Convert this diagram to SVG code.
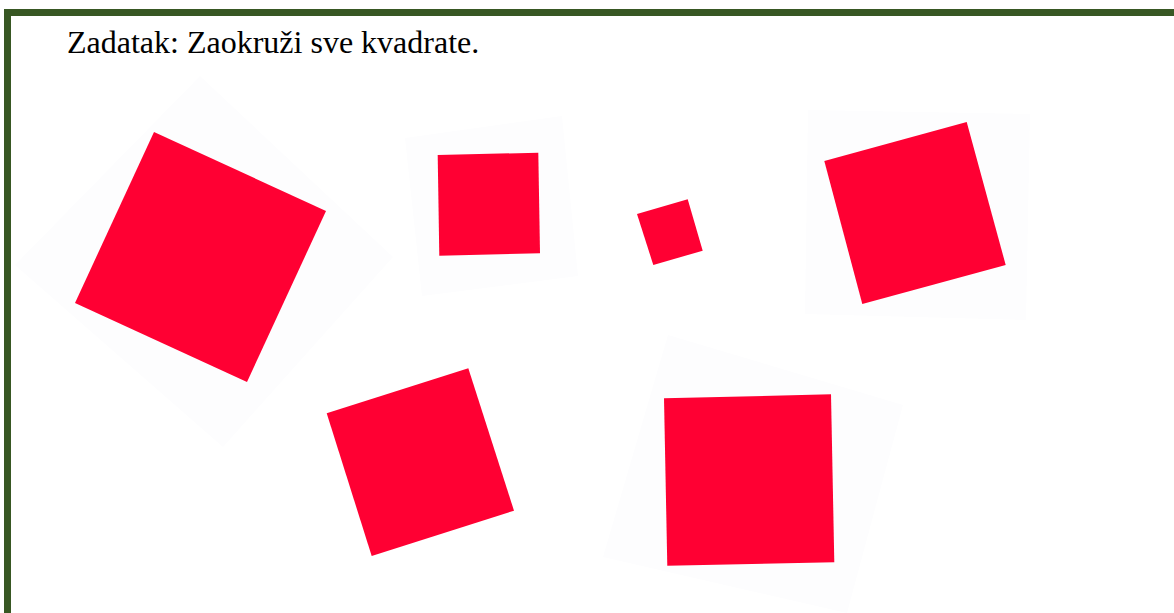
<svg xmlns="http://www.w3.org/2000/svg" width="1174" height="613" viewBox="0 0 1174 613">
  <style>
    .bg { fill: #fdfdfe; }
    .sq { fill: #ff0033; }
    .title { font-family: "Liberation Serif", "Times New Roman", serif; font-size: 32px; fill: #000000; }
  </style>
  <rect x="0" y="0" width="1174" height="613" fill="#ffffff"/>
  <rect x="7.5" y="12.5" width="1200" height="640" fill="none" stroke="#385723" stroke-width="7"/>
  <text class="title" x="67" y="53">Zadatak: Zaokruži sve kvadrate.</text>

  <g id="shape1">
    <polygon class="bg" points="200,76 393,257 223,447 15,265"/>
    <polygon class="sq" points="154,132 326,211 247,382 75,303"/>
  </g>
  <g id="shape2">
    <polygon class="bg" points="405,138 562,116 578,276 422,296"/>
    <polygon class="sq" points="437.7,155 538.3,152.7 540,253.3 439.3,255.7"/>
  </g>
  <g id="shape3">
    <polygon class="sq" points="637,214 687.7,199.3 702.7,250.7 653.3,265"/>
  </g>
  <g id="shape4">
    <polygon class="bg" points="808,110 1030,114 1026,320 805,314"/>
    <polygon class="sq" points="824.3,161 966.7,122 1005.7,265 862.3,304"/>
  </g>
  <g id="shape5">
    <polygon class="sq" points="326.7,413.3 468.3,368.3 514,510.7 371.7,556"/>
  </g>
  <g id="shape6">
    <polygon class="bg" points="668,335 903,405 847,613 603,557"/>
    <polygon class="sq" points="664,398.3 831,394.3 834.3,562.3 667.3,565.7"/>
  </g>
</svg>
